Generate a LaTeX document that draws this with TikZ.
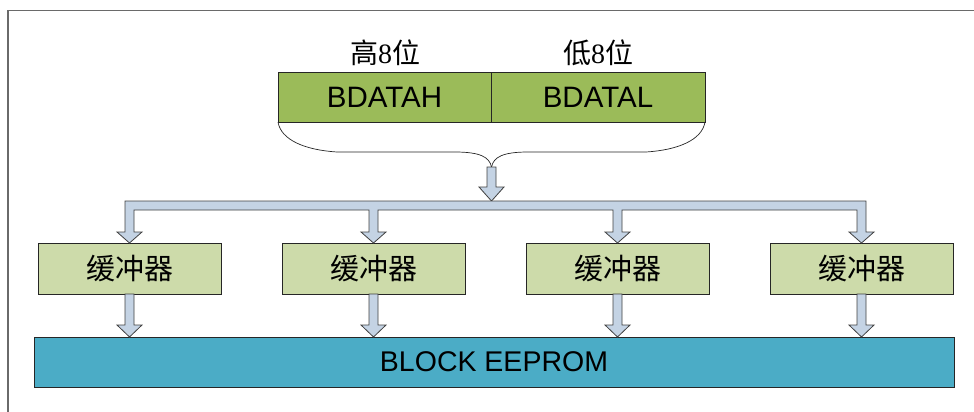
\documentclass[tikz,border=0pt]{standalone}
\usepackage{fontspec}
\setmainfont{Liberation Sans}
\newfontfamily\cjk{Noto Sans CJK SC}
\newfontfamily\serifd{Liberation Serif}
\usetikzlibrary{calc}
\definecolor{regfill}{HTML}{9BBB59}
\definecolor{buffill}{HTML}{CDDBAA}
\definecolor{eepfill}{HTML}{4BACC6}
\definecolor{arrfill}{HTML}{C4D3E4}
\definecolor{framecol}{HTML}{6A6A6A}
\tikzset{
  regbox/.style={draw=black!85, line width=0.8pt, fill=regfill, inner sep=0pt, outer sep=0pt,
    minimum height=50pt, anchor=north west, font=\fontsize{29.5}{32}\selectfont},
  bufbox/.style={draw=black!85, line width=0.8pt, fill=buffill, inner sep=0pt, outer sep=0pt,
    minimum width=183pt, minimum height=51pt, anchor=north west, font=\fontsize{29}{32}\selectfont\cjk},
  eepbox/.style={draw=black!85, line width=0.8pt, fill=eepfill, inner sep=0pt, outer sep=0pt,
    minimum width=920pt, minimum height=50pt, anchor=north west, font=\fontsize{28.5}{31}\selectfont},
  toplabel/.style={inner sep=0pt, font=\fontsize{28}{30}\selectfont},
  fatarrow/.style={draw=black!75, line width=0.8pt, fill=arrfill, line join=miter},
  bracelines/.style={draw=black!85, line width=0.7pt},
}
\newcommand\fatdown[3]{% top point, tip point, head length
  \path let \p1=(#1), \p2=(#2) in [fatarrow]
    (\x1-4.5pt,\y1) -- (\x1+4.5pt,\y1) -- (\x1+4.5pt,\y2+#3) -- (\x1+12.5pt,\y2+#3)
    -- (\x1,\y2) -- (\x1-12.5pt,\y2+#3) -- (\x1-4.5pt,\y2+#3) -- cycle;}
\begin{document}
\begin{tikzpicture}[x=1pt,y=-1pt]
\useasboundingbox (0,0) rectangle (974,412);
% frame
\draw[framecol, line width=1.3pt] (974,10.5) -- (8,10.5) -- (8,412);
% labels
\node[toplabel] (lh) at (385,53) {{\cjk 高}{\serifd 8}{\cjk 位}};
\node[toplabel] (ll) at (598,53) {{\cjk 低}{\serifd 8}{\cjk 位}};
% register
\node[regbox, minimum width=213pt] (rh) at (278,72) {BDATAH};
\node[regbox, minimum width=214pt] (rl) at (491,72) {BDATAL};
% brace
\coordinate (tip) at (491.5,167);
\draw[bracelines] (rh.south west) .. controls (281,140) and (305,150) .. (337,152)
  -- (455,152) .. controls (480,152) and (489.5,157) .. (tip);
\draw[bracelines] (rl.south east) .. controls (702,140) and (678,150) .. (646,152)
  -- (528,152) .. controls (503,152) and (493.5,157) .. (tip);
% buffers
\node[bufbox] (b1) at (38,243) {缓冲器};
\node[bufbox] (b2) at (282,243) {缓冲器};
\node[bufbox] (b3) at (526,243) {缓冲器};
\node[bufbox] (b4) at (770,243) {缓冲器};
% eeprom
\node[eepbox] (ee) at (34,337) {BLOCK EEPROM};
% input arrow onto bus
\coordinate (bustop) at (491.5,201);
\fatdown{tip}{bustop}{14pt}
% bus with four branches
\path let \p1=(b1.north), \p2=(b2.north), \p3=(b3.north), \p4=(b4.north) in
  [fatarrow]
  (\x1-4.5pt,-201pt) -- (\x4+4.5pt,-201pt)
  -- (\x4+4.5pt,\y4+11pt) -- (\x4+12.5pt,\y4+11pt) -- (\x4,\y4) -- (\x4-12.5pt,\y4+11pt) -- (\x4-4.5pt,\y4+11pt)
  -- (\x4-4.5pt,-210pt) -- (\x3+4.5pt,-210pt)
  -- (\x3+4.5pt,\y3+11pt) -- (\x3+12.5pt,\y3+11pt) -- (\x3,\y3) -- (\x3-12.5pt,\y3+11pt) -- (\x3-4.5pt,\y3+11pt)
  -- (\x3-4.5pt,-210pt) -- (\x2+4.5pt,-210pt)
  -- (\x2+4.5pt,\y2+11pt) -- (\x2+12.5pt,\y2+11pt) -- (\x2,\y2) -- (\x2-12.5pt,\y2+11pt) -- (\x2-4.5pt,\y2+11pt)
  -- (\x2-4.5pt,-210pt) -- (\x1+4.5pt,-210pt)
  -- (\x1+4.5pt,\y1+11pt) -- (\x1+12.5pt,\y1+11pt) -- (\x1,\y1) -- (\x1-12.5pt,\y1+11pt) -- (\x1-4.5pt,\y1+11pt)
  -- cycle;
% buffer to eeprom arrows
\fatdown{b1.south}{b1.south |- ee.north}{12pt}
\fatdown{b2.south}{b2.south |- ee.north}{12pt}
\fatdown{b3.south}{b3.south |- ee.north}{12pt}
\fatdown{b4.south}{b4.south |- ee.north}{12pt}
\end{tikzpicture}
\end{document}
